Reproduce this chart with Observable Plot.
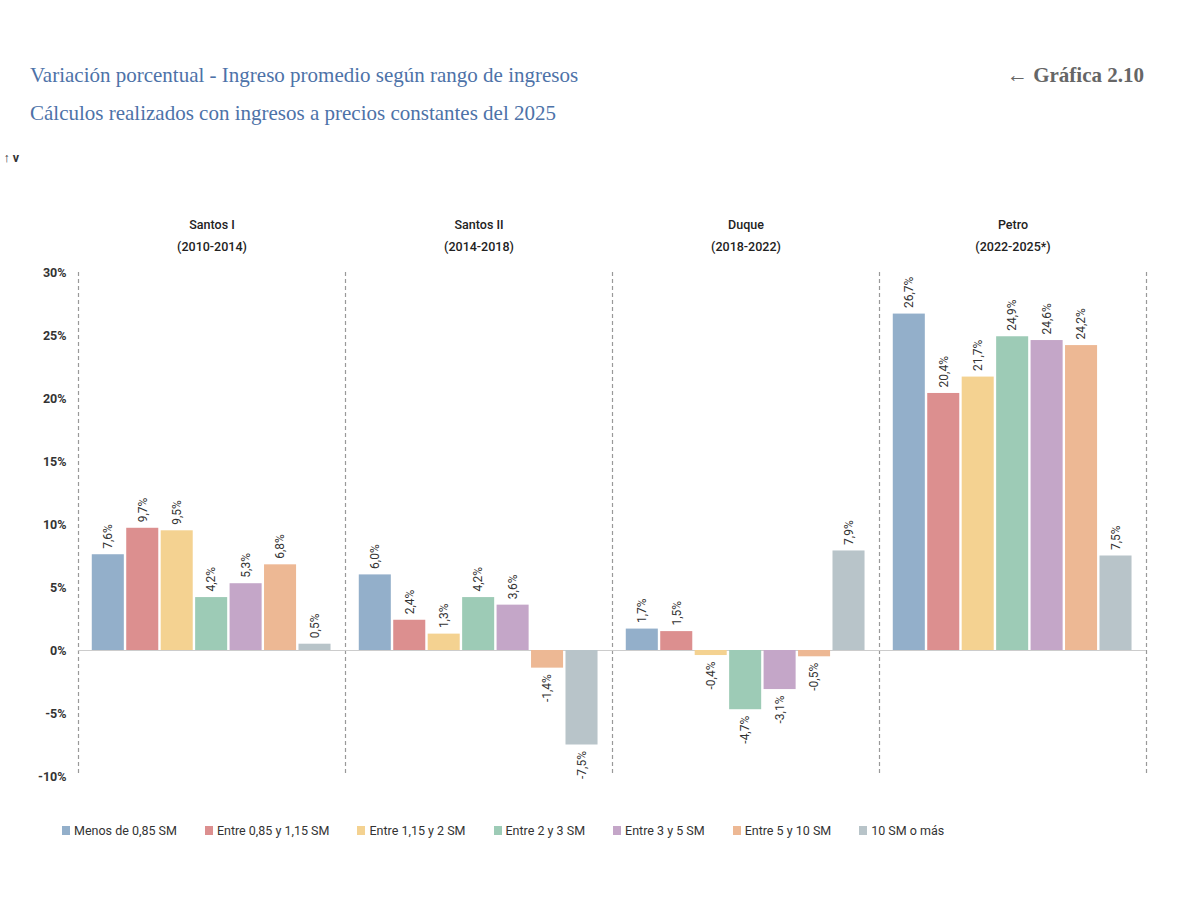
<!DOCTYPE html>
<html><head><meta charset="utf-8">
<script src="https://cdn.jsdelivr.net/npm/d3@7"></script>
<script src="https://cdn.jsdelivr.net/npm/@observablehq/plot@0.6"></script>
<style>
body{margin:0;background:#fff;font-family:Roboto,"Noto Sans",sans-serif;}
#head{position:relative;height:150px;}
.t{position:absolute;left:30px;font-family:"Liberation Serif","DejaVu Serif",serif;color:#4d72a8;font-size:21px;}
#gr{position:absolute;right:35px;top:63px;font-family:"Liberation Serif",serif;color:#666;font-size:21px;font-weight:bold;}
#legend{display:flex;gap:0;margin-left:62px;font-size:12.5px;color:#333;margin-top:2px}
#legend span{display:inline-flex;align-items:center;margin-right:28px}
#legend i{display:inline-block;width:8px;height:9px;margin-right:4px}
</style></head><body>
<div id="head">
<div class="t" style="top:63px">Variación porcentual - Ingreso promedio según rango de ingresos</div>
<div class="t" style="top:101px">Cálculos realizados con ingresos a precios constantes del 2025</div>
<div id="gr">← Gráfica 2.10</div>
</div>
<div id="chart"></div>
<div id="legend"></div>
<script>
const periods = ["Santos I\n(2010-2014)","Santos II\n(2014-2018)","Duque\n(2018-2022)","Petro\n(2022-2025*)"];
const series = ["Menos de 0,85 SM","Entre 0,85 y 1,15 SM","Entre 1,15 y 2 SM","Entre 2 y 3 SM","Entre 3 y 5 SM","Entre 5 y 10 SM","10 SM o más"];
const colors = ["#93afca","#dc8f8f","#f4d291","#9dcbb6","#c4a6c8","#edb894","#b8c4c9"];
const santosI = [7.6,9.7,9.5,4.2,5.3,6.8,0.5];
const santosII = [6.0,2.4,1.3,4.2,3.6,-1.4,-7.5];
const duque = [1.7,1.5,-0.4,-4.7,-3.1,-0.5,7.9];
const petro = [26.7,20.4,21.7,24.9,24.6,24.2,7.5];
const yTicks = [-10,-5,0,5,10,15,20,25,30];

const all = [santosI,santosII,duque,petro];
const P = 7.75, pad = 0.4, bw = 0.93;
const data = [];
all.forEach((arr,p)=>arr.forEach((v,j)=>data.push({p,j,v,s:series[j],x1:p*P+pad+j,x2:p*P+pad+j+bw})));
const fmt = v => v.toFixed(1).replace(".",",")+"%";

const chart = Plot.plot({
  width:1179, height:671, marginLeft:78, marginRight:33, marginTop:122, marginBottom:45,
  x:{domain:[0,4*P], axis:null},
  y:{domain:[-10,30], axis:null},
  color:{domain:series, range:colors},
  style:{fontFamily:"Roboto, 'Noto Sans', sans-serif"},
  marks:[
    Plot.ruleX(d3.range(5), {x:d=>d*P, y1:30, y2:-10, stroke:"#999", strokeDasharray:"4,3", strokeWidth:1.2}),
    Plot.ruleY([0], {stroke:"#ccc", strokeWidth:1.2}),
    Plot.rectY(data, {x1:"x1", x2:"x2", y1:0, y2:"v", fill:"s"}),
    Plot.text(data.filter(d=>d.v>=0), {x:d=>(d.x1+d.x2)/2, y:"v", text:d=>fmt(d.v), rotate:-90, textAnchor:"start", dy:-6, fontSize:12, fill:"#333"}),
    Plot.text(data.filter(d=>d.v<0), {x:d=>(d.x1+d.x2)/2, y:"v", text:d=>fmt(d.v), rotate:-90, textAnchor:"end", dy:6, fontSize:12, fill:"#333"}),
    Plot.text(periods, {x:(d,i)=>i*P+P/2, y:30, text:d=>d, dy:-22, lineAnchor:"bottom", lineHeight:1.75, fontSize:12.5, fill:"#222", fontWeight:500}),
    Plot.axisY({ticks:yTicks, tickSize:0, tickPadding:12, tickFormat:d=>d+"%", fontSize:12.5, fontWeight:"bold", fill:"#333"})
  ]
});
document.getElementById("chart").appendChild(chart);
const lg = document.getElementById("legend");
series.forEach((s,i)=>{const e=document.createElement("span");e.innerHTML=`<i style="background:${colors[i]}"></i>${s}`;lg.appendChild(e);});
</script></body></html>
